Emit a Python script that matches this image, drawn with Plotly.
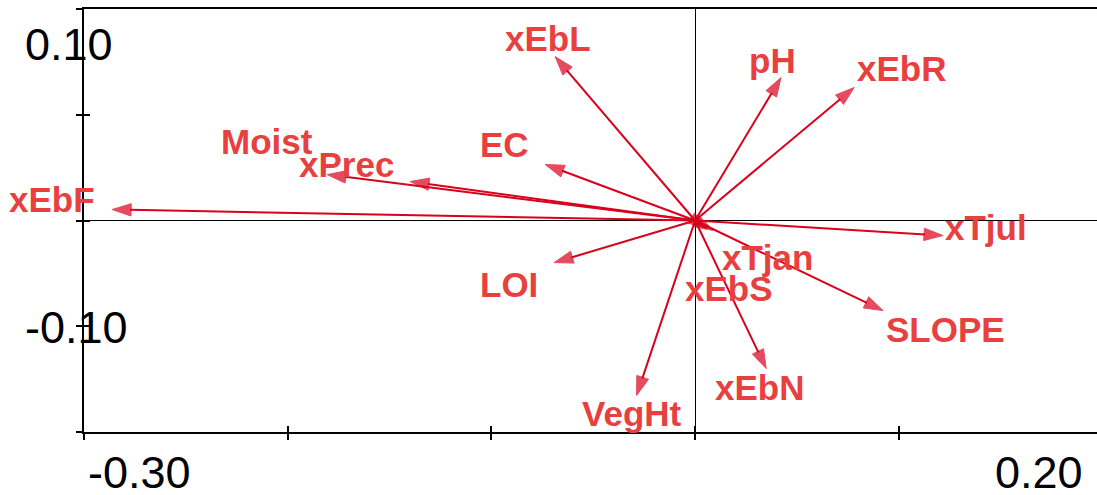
import plotly.graph_objects as go

# Biplot vectors (axis 1, axis 2)
variables = ["xEbF", "Moist", "xPrec", "EC", "xEbL", "pH", "xEbR", "xTjul",
             "LOI", "VegHt", "xEbN", "SLOPE", "xTjan", "xEbS"]
axis1 = [-0.2862, -0.1807, -0.1399, -0.0736, -0.0687, 0.0422, 0.0781, 0.1217,
         -0.0692, -0.0287, 0.0349, 0.0923, 0.0088, 0.0059]
axis2 = [0.0052, 0.0217, 0.0184, 0.0265, 0.0775, 0.0676, 0.0629, -0.0071,
         -0.0199, -0.0827, -0.0700, -0.0426, -0.0047, -0.0038]

# label offsets from arrow tips, in pixels (right, down)
label_dx = [-60, -60, -64, -41, -7, -9, 47, 43, -45, -5, -7, 62, 54, 22]
label_dy = [-10, -33, -17, -20, -18, -17, -19, -8, 22, 18, 19, 19, 27, 60]

x_ticks = [-0.3, -0.2, -0.1, 0.0, 0.1]
y_ticks = [-0.10, -0.05, 0.0, 0.05, 0.10]
x_range = [-0.30, 0.1973]
y_range = [-0.10, 0.10]
end_labels = ["0.10", "-0.10", "-0.30", "0.20"]

ARROW = "#D9001B"
TEXT = "#E8403F"
FONT = "Liberation Sans, Arial, sans-serif"

fig = go.Figure()
for name, vx, vy in zip(variables, axis1, axis2):
    fig.add_trace(go.Scatter(
        x=[0, vx], y=[0, vy], mode="lines+markers", name=name,
        line=dict(color=ARROW, width=2),
        marker=dict(symbol="arrow", size=[0, 20], angleref="previous",
                    color=ARROW, line=dict(width=1, color=ARROW)),
        hoverinfo="skip", showlegend=False, cliponaxis=False))

annotations = []
for name, vx, vy, dx, dy in zip(variables, axis1, axis2, label_dx, label_dy):
    annotations.append(dict(x=vx, y=vy, xref="x", yref="y", text=name,
                            showarrow=False, xshift=dx, yshift=-dy,
                            xanchor="center", yanchor="middle",
                            font=dict(family=FONT, size=35, color=TEXT,
                                      weight="bold")))

tick_font = dict(family=FONT, size=45, color="black")
annotations += [
    dict(x=-0.0602, y=0.917, xref="paper", yref="paper", text=end_labels[0],
         showarrow=False, xanchor="left", yanchor="middle", font=tick_font),
    dict(x=-0.0602, y=0.248, xref="paper", yref="paper", text=end_labels[1],
         showarrow=False, xanchor="left", yanchor="middle", font=tick_font),
    dict(x=0.002, y=-0.095, xref="paper", yref="paper", text=end_labels[2],
         showarrow=False, xanchor="left", yanchor="middle", font=tick_font),
    dict(x=0.988, y=-0.095, xref="paper", yref="paper", text=end_labels[3],
         showarrow=False, xanchor="right", yanchor="middle", font=tick_font),
]

axis_common = dict(showgrid=False, showticklabels=False, ticklen=6,
                   tickwidth=2, tickcolor="black", linecolor="black",
                   linewidth=2, zeroline=True, zerolinecolor="black",
                   zerolinewidth=1)

fig.update_layout(
    width=1097, height=495,
    margin=dict(l=84, r=0, t=9, b=63),
    paper_bgcolor="white", plot_bgcolor="white",
    showlegend=False,
    xaxis=dict(range=x_range, tickvals=x_ticks, ticks="outside",
               showline=True, mirror=True, **axis_common),
    yaxis=dict(range=y_range, tickvals=y_ticks, ticks="outside",
               showline=True, mirror=False, **axis_common),
    xaxis2=dict(range=x_range, tickvals=x_ticks, ticks="inside",
                overlaying="x", anchor="y", side="bottom", showline=False,
                showgrid=False, showticklabels=False, ticklen=6, tickwidth=2,
                tickcolor="black", zeroline=False),
    yaxis2=dict(range=y_range, tickvals=y_ticks, ticks="inside",
                overlaying="y", anchor="x", side="left", showline=False,
                showgrid=False, showticklabels=False, ticklen=6, tickwidth=2,
                tickcolor="black", zeroline=False),
    annotations=annotations,
)
fig.add_trace(go.Scatter(x=[0], y=[0], xaxis="x2", yaxis="y2", mode="markers",
                         marker=dict(size=1, color="rgba(0,0,0,0)"),
                         hoverinfo="skip", showlegend=False))

fig.write_html("out.html", config={"displayModeBar": False},
               post_script="document.body.style.margin='0';"
                           "document.body.style.overflow='hidden';")
